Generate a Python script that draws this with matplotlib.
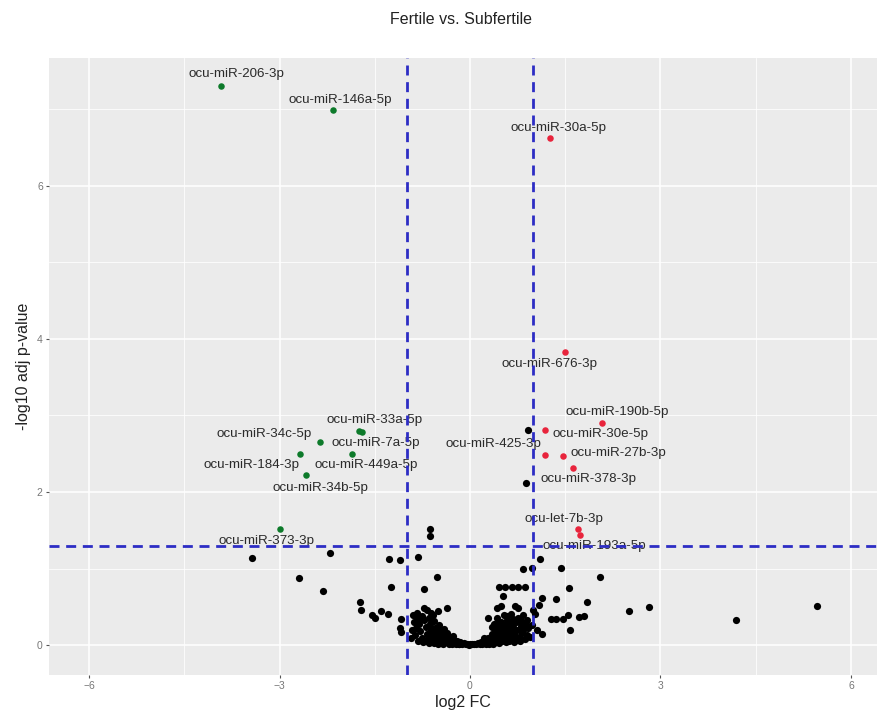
import matplotlib
matplotlib.use("Agg")
import matplotlib.pyplot as plt

plt.rcParams['font.family'] = ['Liberation Sans', 'DejaVu Sans']

# Not significant miRNAs (black)
ns_x = [-3.44, -2.20, -2.69, -2.32, -1.28, -1.10, -0.82, -0.63, -0.63, -0.52,
        -1.24, -0.73, -1.74, -1.72, -1.55, -1.50, -1.40, -1.29, -1.09, -1.11,
        -1.09, -0.36, -0.73, -0.68, -0.51, -0.84,
        1.10, 0.84, 0.97, 0.45, 0.55, 0.66, 0.76, 0.87, 0.52, 0.42,
        0.49, 0.71, 0.76, 0.28, 1.13, 1.08, 1.02, 0.84, 0.89, 0.97,
        1.05, 1.13, 0.94, 1.44, 2.04, 1.56, 1.35, 1.85, 1.27, 1.35,
        1.46, 1.55, 1.72, 1.80, 1.57, 2.51, 2.82, 4.19, 5.47, 0.91,
        0.88, 1.00,
        -0.88, -0.85, -0.87, -0.80, -0.78, -0.76, -0.72, -0.70, -0.68, -0.66,
        -0.63, -0.61, -0.60, -0.57, -0.55, -0.53, -0.52, -0.49, -0.47, -0.45,
        -0.43, -0.41, -0.39, -0.37, -0.34, -0.32, -0.30, -0.27, -0.25, -0.22,
        -0.20, -0.17, -0.15, -0.12, -0.10, -0.07, -0.05, -0.02, 0.00,
        0.03, 0.06, 0.09, 0.12, 0.15, 0.18, 0.21, 0.24, 0.27, 0.29,
        0.31, 0.33, 0.35, 0.37, 0.39, 0.40, 0.42, 0.44, 0.45, 0.47,
        0.49, 0.50, 0.52, 0.54, 0.55, 0.57, 0.59, 0.60, 0.62, 0.63,
        0.65, 0.67, 0.70, 0.72, 0.74, 0.77, 0.80, 0.82, 0.86, 0.90,
        -0.90, -0.83, -0.75, -0.65, -0.58, -0.82, -0.74, -0.70, -0.64, -0.58,
        -0.56, -0.50, -0.47, -0.44, -0.42, -0.36, -0.33, -0.29, -0.26, -0.23,
        -0.18, -0.80, -0.91, -0.93, -0.62,
        0.25, 0.30, 0.36, 0.41, 0.46, 0.51, 0.56, 0.61, 0.66, 0.69,
        0.73, 0.78, 0.84, 0.88, 0.92, 0.58, 0.64, 0.68, 0.76, 0.81,
        0.43, 0.38, 0.35, 0.53, 0.22, 0.19]
ns_y = [1.14, 1.21, 0.88, 0.71, 1.12, 1.11, 1.15, 1.52, 1.42, 0.89,
        0.76, 0.74, 0.56, 0.46, 0.40, 0.36, 0.44, 0.41, 0.34, 0.22,
        0.17, 0.49, 0.49, 0.46, 0.45, 0.37,
        1.12, 0.99, 1.01, 0.76, 0.76, 0.76, 0.76, 0.76, 0.64, 0.49,
        0.51, 0.51, 0.48, 0.36, 0.61, 0.52, 0.41, 0.39, 0.33, 0.26,
        0.20, 0.15, 0.11, 1.01, 0.89, 0.75, 0.60, 0.56, 0.34, 0.34,
        0.34, 0.39, 0.37, 0.38, 0.20, 0.44, 0.50, 0.33, 0.51, 2.81,
        2.12, 0.46,
        0.30, 0.22, 0.13, 0.27, 0.18, 0.10, 0.33, 0.24, 0.15, 0.08,
        0.28, 0.20, 0.12, 0.31, 0.22, 0.14, 0.07, 0.26, 0.18, 0.10,
        0.05, 0.21, 0.13, 0.08, 0.04, 0.11, 0.06, 0.03, 0.07, 0.02,
        0.05, 0.02, 0.04, 0.01, 0.03, 0.01, 0.02, 0.00, 0.01,
        0.01, 0.02, 0.01, 0.03, 0.02, 0.04, 0.03, 0.06, 0.05, 0.10,
        0.04, 0.08, 0.14, 0.06, 0.20, 0.11, 0.27, 0.16, 0.08, 0.22,
        0.30, 0.13, 0.19, 0.09, 0.26, 0.15, 0.33, 0.21, 0.11, 0.28,
        0.17, 0.24, 0.14, 0.30, 0.20, 0.11, 0.25, 0.16, 0.08, 0.13,
        0.40, 0.42, 0.38, 0.36, 0.40, 0.05, 0.04, 0.06, 0.03, 0.05,
        0.03, 0.02, 0.04, 0.14, 0.02, 0.16, 0.01, 0.02, 0.12, 0.04,
        0.01, 0.34, 0.20, 0.10, 0.42,
        0.01, 0.02, 0.02, 0.04, 0.03, 0.05, 0.04, 0.06, 0.08, 0.04,
        0.07, 0.05, 0.20, 0.28, 0.22, 0.38, 0.41, 0.34, 0.36, 0.31,
        0.35, 0.28, 0.24, 0.40, 0.09, 0.01]

# Down-regulated miRNAs (green)
down_names = ["ocu-miR-206-3p", "ocu-miR-146a-5p", "ocu-miR-33a-5p", "ocu-miR-7a-5p",
              "ocu-miR-34c-5p", "ocu-miR-184-3p", "ocu-miR-449a-5p", "ocu-miR-34b-5p",
              "ocu-miR-373-3p"]
down_x = [-3.92, -2.16, -1.75, -1.70, -2.36, -2.68, -1.86, -2.58, -2.99]
down_y = [7.31, 6.99, 2.80, 2.79, 2.65, 2.50, 2.50, 2.22, 1.52]

# Up-regulated miRNAs (red)
up_names = ["ocu-miR-30a-5p", "ocu-miR-676-3p", "ocu-miR-190b-5p", "ocu-miR-30e-5p",
            "ocu-miR-425-3p", "ocu-miR-27b-3p", "ocu-miR-378-3p", "ocu-let-7b-3p",
            "ocu-miR-193a-5p"]
up_x = [1.26, 1.50, 2.08, 1.18, 1.18, 1.46, 1.62, 1.70, 1.74]
up_y = [6.63, 3.83, 2.90, 2.81, 2.48, 2.47, 2.31, 1.52, 1.44]

fc_cut = 1.0
p_cut = 1.301

# label offsets in points (dx, dy)
label_offsets = {
    "ocu-miR-206-3p": (11, 8), "ocu-miR-146a-5p": (5, 7), "ocu-miR-33a-5p": (11, 8),
    "ocu-miR-7a-5p": (10, -8), "ocu-miR-34c-5p": (-40, 6), "ocu-miR-184-3p": (-35, -8),
    "ocu-miR-449a-5p": (10, -8), "ocu-miR-34b-5p": (10, -9), "ocu-miR-373-3p": (-10, -9),
    "ocu-miR-30a-5p": (6, 7), "ocu-miR-676-3p": (-11, -9), "ocu-miR-190b-5p": (11, 8),
    "ocu-miR-30e-5p": (40, -3), "ocu-miR-425-3p": (-37, 8), "ocu-miR-27b-3p": (40, 2),
    "ocu-miR-378-3p": (11, -8), "ocu-let-7b-3p": (-10, 7), "ocu-miR-193a-5p": (10, -8),
}

fig = plt.figure(figsize=(8.77, 7.14), dpi=100)
ax = fig.add_axes([0.0559, 0.0546, 0.9441, 0.8642])
ax.set_facecolor('#EBEBEB')
for s in ax.spines.values():
    s.set_visible(False)

ax.set_xlim(-6.63, 6.41)
ax.set_ylim(-0.39, 7.67)
ax.set_xticks([-6, -3, 0, 3, 6])
ax.set_xticks([-4.5, -1.5, 1.5, 4.5], minor=True)
ax.set_yticks([0, 2, 4, 6])
ax.set_yticks([1, 3, 5, 7], minor=True)
ax.grid(which='major', color='white', linewidth=1.1)
ax.grid(which='minor', color='white', linewidth=0.55)
ax.set_axisbelow(True)
ax.tick_params(which='major', length=2.5, width=0.8, color='#555555',
               labelsize=7.5, labelcolor='#777777', pad=2)
ax.tick_params(which='minor', length=0)

ax.scatter(ns_x, ns_y, s=27, color='black', linewidths=0, zorder=3)
ax.scatter(down_x, down_y, s=22, color='#0d7a2a', linewidths=0, zorder=3)
ax.scatter(up_x, up_y, s=22, color='#e8243c', linewidths=0, zorder=3)

for names, xs, ys in ((down_names, down_x, down_y), (up_names, up_x, up_y)):
    for n, x, y in zip(names, xs, ys):
        dx, dy = label_offsets[n]
        ax.annotate(n, (x, y), xytext=(dx, dy), textcoords='offset points',
                    ha='center', va='center', fontsize=9.6, color='#2a2a2a', zorder=4)

dash = dict(color='#2d2dc4', linewidth=2.0, dashes=(3.6, 2.4), zorder=5)
ax.axvline(-fc_cut, **dash)
ax.axvline(fc_cut, **dash)
ax.axhline(p_cut, **dash)

ax.set_xlabel('log2 FC', fontsize=11.5, color='#222222', labelpad=3)
ax.set_ylabel('-log10 adj p-value', fontsize=11.5, color='#222222', labelpad=4)
fig.text(0.526, 0.972, 'Fertile vs. Subfertile', ha='center', va='center',
         fontsize=11.5, color='#222222')

fig.savefig('out.png', dpi=100)
